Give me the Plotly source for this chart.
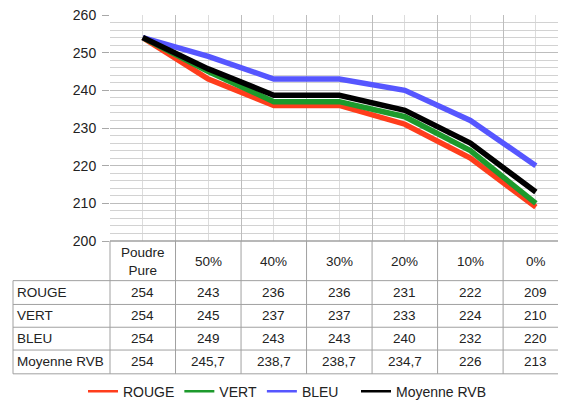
import plotly.graph_objects as go

categories = ["Poudre<br>Pure", "50%", "40%", "30%", "20%", "10%", "0%"]
rouge = [254, 243, 236, 236, 231, 222, 209]
vert = [254, 245, 237, 237, 233, 224, 210]
bleu = [254, 249, 243, 243, 240, 232, 220]
moyenne = [254, 245.7, 238.7, 238.7, 234.7, 226, 213]
series_names = ["ROUGE", "VERT", "BLEU", "Moyenne RVB"]
series_values = [rouge, vert, bleu, moyenne]
colors = ["#ff3d1c", "#1d9a2c", "#5656ff", "#000000"]
y_ticks = [200, 210, 220, 230, 240, 250, 260]

# page body has an 8px margin: work in screen pixels and shift
OFF = 8
W, H = 566 - OFF, 408 - OFF
ML, MT = 110 - OFF, 15 - OFF
MR = 0
PW = 566 - 110
PH = 243 - 15
MB = H - MT - PH
XR = [-0.5, 6.46]

def px_x(p):
    return (p - 110) / PW

def px_y(p):
    return (243 - p) / PH

def xcat_paper(v):
    return (v - XR[0]) / (XR[1] - XR[0])

xs = list(range(len(categories)))
fig = go.Figure()
for name, vals, col in zip(series_names, series_values, colors):
    fig.add_trace(go.Scatter(x=xs, y=vals, mode="lines", name=name,
                             line=dict(color=col, width=5.5), showlegend=False,
                             hoverinfo="skip"))
for i, (name, col) in enumerate(zip(series_names, colors)):
    fig.add_trace(go.Scatter(x=[None], y=[None], mode="lines", name=name,
                             line=dict(color=col, width=2.5), showlegend=True,
                             legend="legend2" if i == 3 else "legend"))

FONT = "Liberation Sans, Arial, sans-serif"
TXT = "#222222"
LINE = "#a0a0a0"

shapes = []
anns = []
row_edges = [283, 307, 330, 353, 377]
left_px = 13

for r in row_edges:
    shapes.append(dict(type="line", xref="paper", yref="paper",
                       x0=px_x(left_px), x1=1, y0=px_y(r), y1=px_y(r),
                       line=dict(color=LINE, width=1)))
shapes.append(dict(type="line", xref="paper", yref="paper",
                   x0=px_x(left_px), x1=px_x(left_px), y0=px_y(row_edges[0]), y1=px_y(row_edges[-1]),
                   line=dict(color=LINE, width=1)))
for k in range(len(categories)):
    xb = xcat_paper(k - 0.5)
    shapes.append(dict(type="line", xref="paper", yref="paper",
                       x0=xb, x1=xb, y0=0, y1=px_y(row_edges[-1]),
                       line=dict(color=LINE, width=1)))
shapes.append(dict(type="line", xref="paper", yref="paper", x0=0, x1=1, y0=0, y1=0,
                   line=dict(color="#a0a0a0", width=1.5)))

for k, c in enumerate(categories):
    anns.append(dict(x=k, y=px_y(264), xref="x", yref="paper", text=c,
                     showarrow=False, xanchor="center", yanchor="middle",
                     font=dict(family=FONT, size=13.5, color=TXT)))
for i, (name, vals) in enumerate(zip(series_names, series_values)):
    yc = (row_edges[i] + row_edges[i + 1]) / 2
    anns.append(dict(x=px_x(15), y=px_y(yc), xref="paper", yref="paper", text=name,
                     showarrow=False, xanchor="left", yanchor="middle",
                     font=dict(family=FONT, size=13.5, color=TXT)))
    for k, v in enumerate(vals):
        s = ("%g" % v).replace(".", ",")
        anns.append(dict(x=k, y=px_y(yc), xref="x", yref="paper", text=s,
                         showarrow=False, xanchor="center", yanchor="middle",
                         font=dict(family=FONT, size=13.5, color=TXT)))

leg_common = dict(orientation="h", yanchor="middle",
                  font=dict(family=FONT, size=14, color=TXT),
                  itemwidth=30, tracegroupgap=0, bgcolor="rgba(0,0,0,0)")
fig.update_layout(
    width=W, height=H,
    margin=dict(l=ML, r=MR, t=MT, b=MB),
    paper_bgcolor="white", plot_bgcolor="white",
    font=dict(family=FONT, size=14, color=TXT),
    shapes=shapes, annotations=anns,
    showlegend=True,
    legend=dict(x=px_x(83), y=px_y(395), xanchor="left", **leg_common),
    legend2=dict(x=px_x(356), y=px_y(395), xanchor="left", **leg_common),
)
fig.update_xaxes(range=XR, showticklabels=False, ticks="",
                 tick0=-0.5, dtick=1, showgrid=True, gridcolor="#bdbdbd", gridwidth=1,
                 minor=dict(dtick=0.5, tick0=0, showgrid=True, gridcolor="#dcdcdc", gridwidth=1),
                 showline=False, zeroline=False, fixedrange=True)
fig.update_yaxes(range=[200, 260], tickvals=y_ticks, ticktext=[str(t) for t in y_ticks],
                 showgrid=True, gridcolor="#bdbdbd", gridwidth=1,
                 minor=dict(dtick=2, tick0=200, showgrid=True, gridcolor="#d2d2d2", gridwidth=1),
                 ticks="outside", ticklen=7, tickcolor="#a8a8a8",
                 ticklabelstandoff=3, ticklabeloverflow="allow",
                 tickfont=dict(family=FONT, size=14, color=TXT),
                 showline=False, zeroline=False, fixedrange=True)

fig.write_html("out.html")
